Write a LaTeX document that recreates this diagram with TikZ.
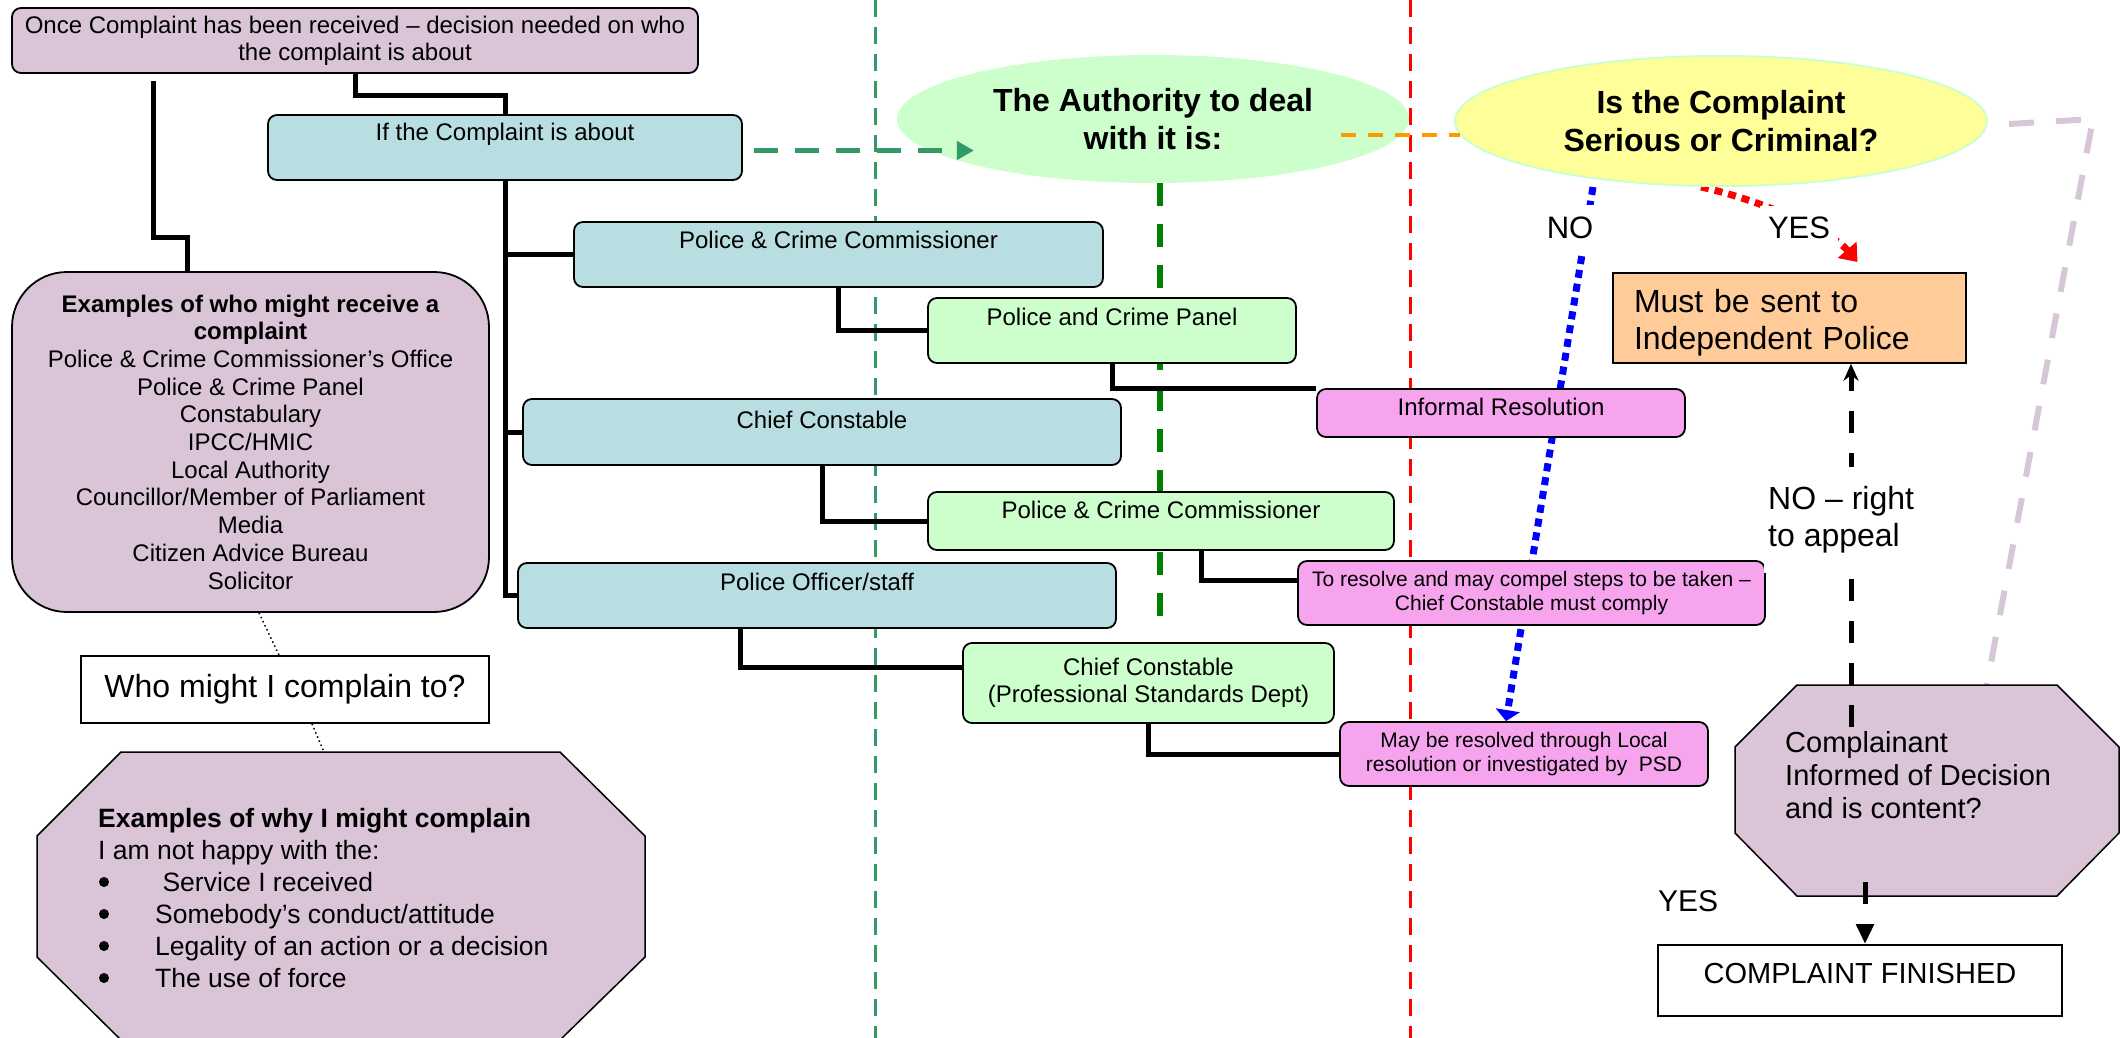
\documentclass[tikz,border=0pt]{standalone}
\usepackage{fontspec}
\setmainfont{Liberation Sans}
\usetikzlibrary{arrows.meta,calc,shapes.geometric}
\pgfdeclarelayer{back}
\pgfsetlayers{back,main}

\definecolor{mauve}{RGB}{217,197,215}
\definecolor{duckegg}{RGB}{184,222,226}
\definecolor{mint}{RGB}{204,255,204}
\definecolor{candy}{RGB}{246,164,238}
\definecolor{peach}{RGB}{255,204,153}
\definecolor{lemon}{RGB}{255,255,153}
\definecolor{lilac}{RGB}{215,197,216}
\definecolor{seagreen}{RGB}{51,153,102}
\definecolor{leaf}{RGB}{0,128,0}
\definecolor{amber}{RGB}{255,153,0}

\tikzset{
	card/.style={draw, line width=1.8pt, rounded corners=9pt, inner sep=0pt,
			font=\fontsize{24}{27}\selectfont},
	bluecard/.style={card, fill=duckegg},
	greencard/.style={card, fill=mint},
	pinkcard/.style={card, fill=candy, font=\fontsize{21}{24}\selectfont},
	plaincard/.style={draw, line width=1.8pt, fill=white, inner sep=0pt},
	bubble/.style={ellipse, inner sep=0pt, align=center,
			font=\fontsize{32}{38}\selectfont\bfseries},
	link/.style={line width=5pt},
	divider/.style={line width=3pt, dash pattern=on 17pt off 10pt},
	dotline/.style={line width=7pt, dash pattern=on 8pt off 6pt},
	hint/.style={line width=1.5pt, dash pattern=on 1.5pt off 3pt}
}
\newcommand{\bul}{\makebox[57pt]{}}

\begin{document}
\begin{tikzpicture}[x=1pt, y=-1pt]
    \useasboundingbox (0,0) rectangle (2120,1038);

    \node[card, fill=mauve, minimum width=686pt, minimum height=65pt, align=center] (recv) at (355,40.5)
        {Once Complaint has been received -- decision needed on who\\the complaint is about};
    \node[bluecard, minimum width=474pt, text height=26pt, text depth=39pt, anchor=base] (about) at (505,141) {If the Complaint is about};
    \node[bluecard, minimum width=529pt, text height=26pt, text depth=39pt, anchor=base] (pcc) at (838.5,248) {Police \& Crime Commissioner};
    \node[greencard, minimum width=368pt, text height=27pt, text depth=38pt, anchor=base] (panel) at (1112,325) {Police and Crime Panel};
    \node[bluecard, minimum width=598pt, text height=29pt, text depth=37pt, anchor=base] (chief) at (822,428) {Chief Constable};
    \node[greencard, minimum width=466pt, text height=26pt, text depth=32pt, anchor=base] (pccgreen) at (1161,518) {Police \& Crime Commissioner};
    \node[bluecard, minimum width=598pt, text height=27pt, text depth=38pt, anchor=base] (officer) at (817,590) {Police Officer/staff};
    \node[greencard, minimum width=371pt, minimum height=80pt, align=center] (psd) at (1148.5,683)
        {Chief Constable\\(Professional Standards Dept)};

    \node[pinkcard, minimum width=368pt, text height=26pt, text depth=22pt, anchor=base,
        font=\fontsize{24}{27}\selectfont] (informal) at (1501,415) {Informal Resolution};
    \node[pinkcard, minimum width=467pt, minimum height=64pt, align=center] (compel) at (1531.5,593)
        {To resolve and may compel steps to be taken --\\Chief Constable must comply};
    \node[pinkcard, minimum width=368pt, minimum height=64pt, align=center] (localres) at (1524,754)
        {May be resolved through Local\\resolution or investigated by\ \ PSD};

    \node[bubble, fill=mint, minimum width=512pt, minimum height=128pt] (authority) at (1153,119)
        {The Authority to deal\\with it is:};
    \node[bubble, fill=lemon, draw=mint, line width=2pt, minimum width=532pt, minimum height=130pt] (serious) at (1721,121)
        {Is the Complaint\\Serious or Criminal?};

    \node[plaincard, fill=peach, text width=311pt, inner xsep=21pt, align=left, text height=40pt, text depth=50pt,
        anchor=north, font=\fontsize{32}{36.8}\selectfont] (ipcc) at (1789.5,272) {Must be sent to\\Independent Police};

    \node[card, fill=mauve, rounded corners=55pt, minimum width=477pt, minimum height=340pt, align=center,
        font=\fontsize{24}{27.7}\selectfont] (whoget) at (250.5,442)
        {\textbf{Examples of who might receive a}\\\textbf{complaint}\\Police \& Crime Commissioner's Office\\
         Police \& Crime Panel\\Constabulary\\IPCC/HMIC\\Local Authority\\Councillor/Member of Parliament\\
         Media\\Citizen Advice Bureau\\Solicitor};
    \node[plaincard, minimum width=408pt, text height=41pt, text depth=26pt, anchor=base,
        font=\fontsize{32}{37}\selectfont] (whoto) at (285,697) {Who might I complain to?};

    % octagons
    \coordinate (W0) at (121,752);
    \coordinate (W1) at (560,752);
    \coordinate (W2) at (645,836);
    \coordinate (W3) at (645,957);
    \coordinate (W4) at (560,1040);
    \coordinate (W5) at (121,1040);
    \coordinate (W6) at (37,957);
    \coordinate (W7) at (37,836);
    \draw[line width=1.5pt, fill=mauve] (W0)--(W1)--(W2)--(W3)--(W4)--(W5)--(W6)--(W7)--cycle;
    \node[anchor=north west, inner sep=0pt, align=left, font=\fontsize{26.5}{32}\selectfont] (whytxt) at (98,808)
        {\textbf{Examples of why I might complain}\\I am not happy with the:\\\bul\ Service I received\\
         \bul Somebody's conduct/attitude\\\bul Legality of an action or a decision\\\bul The use of force};
    \foreach \k in {0,...,3}
        \fill ($(whytxt.north west)+(6,74+32*\k)$) circle (5);

    \coordinate (C0) at (1797,685);
    \coordinate (C1) at (2057,685);
    \coordinate (C2) at (2119,747);
    \coordinate (C3) at (2119,833);
    \coordinate (C4) at (2057,896);
    \coordinate (C5) at (1797,896);
    \coordinate (C6) at (1735,833);
    \coordinate (C7) at (1735,747);
    \draw[line width=1.5pt, fill=mauve] (C0)--(C1)--(C2)--(C3)--(C4)--(C5)--(C6)--(C7)--cycle;
    \node[anchor=north west, inner sep=0pt, align=left, font=\fontsize{29}{33}\selectfont] (contenttxt) at (1785,731)
        {Complainant\\Informed of Decision\\and is content?};

    \node[plaincard, minimum width=404pt, text height=38pt, text depth=33pt, anchor=base,
        font=\fontsize{29}{33}\selectfont] (finished) at (1860,983) {COMPLAINT FINISHED};

    \begin{pgfonlayer}{back}
        \draw[divider, seagreen] (875,0) -- (875,1038);
        \draw[divider, red] (1410,0) -- (1410,1038);
        \draw[line width=6pt, leaf, dash pattern=on 23pt off 18pt] ([xshift=7pt]authority.south) -- ++(0,444);

        \draw[link] (recv.south) -- ++(0,22) -| (about.north);
        \draw[link] ([shift={(-202,7)}]recv.south) -- ++(0,157) -| ([xshift=-63pt]whoget.north);
        \draw[link] (about.south) |- (pcc.west);
        \draw[link] (about.south) |- (chief.west);
        \draw[link] (about.south) |- (officer.west);
        \draw[link] (pcc.south) |- (panel.west);
        \draw[link] (panel.south) |- (informal.north west);
        \draw[link] (chief.south) |- (pccgreen.west);
        \draw[link] ([xshift=40pt]pccgreen.south) |- ([yshift=13pt]compel.west);
        \draw[link] ([xshift=-77pt]officer.south) |- ([yshift=16pt]psd.west);
        \draw[link] (psd.south) |- (localres.west);

        \draw[dotline, blue, -{Triangle[length=11pt,width=24pt]}] ([xshift=-128pt]serious.south) -- ([xshift=-18pt]localres.north);
        \draw[dotline, red, -{Triangle[length=16pt,width=24pt]}] ([xshift=-20pt]serious.south)
            .. controls (1760,200) and (1830,230) .. ([shift={(68,-10)}]ipcc.north);

        \coordinate (lilacbend) at (2093,119);
        \draw[lilac, line width=6pt, dash pattern=on 25pt off 22pt] ([shift={(21,3)}]serious.east) -- (lilacbend) -- ($(C0)!0.73!(C1)$);

        \draw[hint] ([xshift=8.5pt]whoget.south) -- ([xshift=-6pt]whoto.north);
        \draw[hint] ([xshift=27pt]whoto.south) -- ($(W0)!0.4624!(W1)$);
    \end{pgfonlayer}

    \tikzset{appeal/.style={line width=5pt, dash pattern=on 22pt off 20pt}}

    \draw[seagreen, line width=5.5pt, dash pattern=on 24pt off 17pt, -{Triangle[length=17pt,width=18pt]}]
        ([shift={(11,3)}]about.east) -- ++(220,0);
    \draw[amber, line width=4pt, dash pattern=on 15pt off 12pt] ([shift={(-68,16)}]authority.east) -- ([shift={(6,14)}]serious.west);

    \coordinate (appealfoot) at (1851,727);
    \draw[appeal, -{Stealth[length=17pt,width=15pt]}] (appealfoot) -- (appealfoot |- ipcc.south);
    \coordinate (yesfoot) at (1865,882);
    \draw[appeal, -{Triangle[length=20pt,width=17pt]}] (yesfoot) -- (yesfoot |- finished.north);

    \node[fill=white, inner xsep=4pt, inner ysep=12pt, font=\fontsize{31}{36}\selectfont] (nolbl) at (1570,228) {NO};
    \node[fill=white, inner xsep=8pt, inner ysep=11pt, font=\fontsize{31}{36}\selectfont] (yeslbl) at (1799,228) {YES};
    \node[fill=white, anchor=west, align=left, inner xsep=4pt, inner ysep=20pt,
        font=\fontsize{32}{37}\selectfont] (appeallbl) at (1764,520) {NO -- right\\to appeal};
    \node[font=\fontsize{30}{34}\selectfont] (yesdone) at (1688,901) {YES};
\end{tikzpicture}
\end{document}
